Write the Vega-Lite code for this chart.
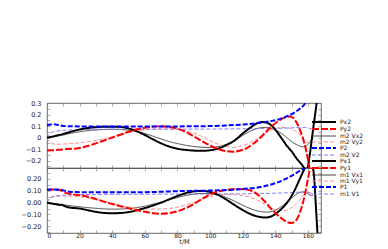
{
"$schema": "https://vega.github.io/schema/vega-lite/v6.json",
"padding": {"left": 20, "top": 99, "right": 5, "bottom": 2},
"spacing": 0,
"bounds": "flush",
"config": {
  "view": {"stroke": "#444444", "strokeWidth": 0.8},
  "axis": {"labelFont": "DejaVu Sans", "labelFontSize": 6.5, "labelColor": "#222222", "tickColor": "#777777", "tickWidth": 0.6, "tickSize": -3, "domain": false, "grid": false, "titleFont": "DejaVu Sans", "titleFontSize": 6.5, "titleFontWeight": "normal", "titleColor": "#222222"},
  "legend": {"labelFont": "DejaVu Sans", "labelFontSize": 6, "labelColor": "#222222"},
  "line": {"interpolate": "monotone"}
},
"datasets": {
"top": [
{"s":"Px2","t":0,"v":0},{"s":"Px2","t":3,"v":0.008},{"s":"Px2","t":6,"v":0.018},{"s":"Px2","t":9,"v":0.028},{"s":"Px2","t":12,"v":0.04},{"s":"Px2","t":15,"v":0.052},{"s":"Px2","t":20,"v":0.07},{"s":"Px2","t":25,"v":0.083},{"s":"Px2","t":30,"v":0.09},{"s":"Px2","t":35,"v":0.094},{"s":"Px2","t":40,"v":0.095},{"s":"Px2","t":45,"v":0.092},{"s":"Px2","t":50,"v":0.08},{"s":"Px2","t":55,"v":0.055},{"s":"Px2","t":60,"v":0.022},{"s":"Px2","t":65,"v":-0.015},{"s":"Px2","t":70,"v":-0.05},{"s":"Px2","t":75,"v":-0.078},{"s":"Px2","t":80,"v":-0.097},{"s":"Px2","t":85,"v":-0.107},{"s":"Px2","t":90,"v":-0.113},{"s":"Px2","t":95,"v":-0.115},{"s":"Px2","t":100,"v":-0.11},{"s":"Px2","t":105,"v":-0.095},{"s":"Px2","t":110,"v":-0.065},{"s":"Px2","t":115,"v":-0.025},{"s":"Px2","t":120,"v":0.035},{"s":"Px2","t":125,"v":0.09},{"s":"Px2","t":129,"v":0.125},{"s":"Px2","t":132,"v":0.135},{"s":"Px2","t":135,"v":0.128},{"s":"Px2","t":138,"v":0.1},{"s":"Px2","t":141,"v":0.05},{"s":"Px2","t":144,"v":-0.01},{"s":"Px2","t":147,"v":-0.07},{"s":"Px2","t":150,"v":-0.12},{"s":"Px2","t":153,"v":-0.18},{"s":"Px2","t":156,"v":-0.23},{"s":"Px2","t":158,"v":-0.265},{"s":"Px2","t":159.5,"v":-0.27},{"s":"Px2","t":161,"v":-0.16},{"s":"Px2","t":162.5,"v":0.0},{"s":"Px2","t":164,"v":0.16},{"s":"Px2","t":165.5,"v":0.32},{"s":"Px2","t":167,"v":0.5},
{"s":"Py2","t":0,"v":-0.112},{"s":"Py2","t":4,"v":-0.11},{"s":"Py2","t":8,"v":-0.105},{"s":"Py2","t":12,"v":-0.1},{"s":"Py2","t":16,"v":-0.097},{"s":"Py2","t":20,"v":-0.09},{"s":"Py2","t":25,"v":-0.073},{"s":"Py2","t":30,"v":-0.05},{"s":"Py2","t":35,"v":-0.025},{"s":"Py2","t":40,"v":0.0},{"s":"Py2","t":45,"v":0.025},{"s":"Py2","t":50,"v":0.05},{"s":"Py2","t":55,"v":0.07},{"s":"Py2","t":60,"v":0.085},{"s":"Py2","t":65,"v":0.095},{"s":"Py2","t":70,"v":0.098},{"s":"Py2","t":75,"v":0.093},{"s":"Py2","t":80,"v":0.078},{"s":"Py2","t":85,"v":0.05},{"s":"Py2","t":90,"v":0.01},{"s":"Py2","t":95,"v":-0.03},{"s":"Py2","t":100,"v":-0.068},{"s":"Py2","t":105,"v":-0.1},{"s":"Py2","t":110,"v":-0.118},{"s":"Py2","t":114,"v":-0.123},{"s":"Py2","t":118,"v":-0.115},{"s":"Py2","t":122,"v":-0.095},{"s":"Py2","t":126,"v":-0.058},{"s":"Py2","t":130,"v":-0.012},{"s":"Py2","t":134,"v":0.045},{"s":"Py2","t":138,"v":0.1},{"s":"Py2","t":142,"v":0.145},{"s":"Py2","t":146,"v":0.175},{"s":"Py2","t":149,"v":0.182},{"s":"Py2","t":151,"v":0.17},{"s":"Py2","t":153,"v":0.13},{"s":"Py2","t":155,"v":0.07},{"s":"Py2","t":157,"v":-0.01},{"s":"Py2","t":159,"v":-0.12},{"s":"Py2","t":161,"v":-0.27},{"s":"Py2","t":163,"v":-0.45},
{"s":"m2 Vx2","t":0,"v":0},{"s":"m2 Vx2","t":3,"v":0.005},{"s":"m2 Vx2","t":6,"v":0.012},{"s":"m2 Vx2","t":10,"v":0.022},{"s":"m2 Vx2","t":15,"v":0.038},{"s":"m2 Vx2","t":20,"v":0.05},{"s":"m2 Vx2","t":25,"v":0.06},{"s":"m2 Vx2","t":30,"v":0.066},{"s":"m2 Vx2","t":35,"v":0.07},{"s":"m2 Vx2","t":40,"v":0.072},{"s":"m2 Vx2","t":45,"v":0.07},{"s":"m2 Vx2","t":50,"v":0.064},{"s":"m2 Vx2","t":55,"v":0.052},{"s":"m2 Vx2","t":60,"v":0.035},{"s":"m2 Vx2","t":65,"v":0.012},{"s":"m2 Vx2","t":70,"v":-0.012},{"s":"m2 Vx2","t":75,"v":-0.035},{"s":"m2 Vx2","t":80,"v":-0.052},{"s":"m2 Vx2","t":85,"v":-0.067},{"s":"m2 Vx2","t":90,"v":-0.077},{"s":"m2 Vx2","t":95,"v":-0.084},{"s":"m2 Vx2","t":100,"v":-0.086},{"s":"m2 Vx2","t":105,"v":-0.079},{"s":"m2 Vx2","t":110,"v":-0.058},{"s":"m2 Vx2","t":115,"v":-0.025},{"s":"m2 Vx2","t":120,"v":0.018},{"s":"m2 Vx2","t":125,"v":0.058},{"s":"m2 Vx2","t":130,"v":0.083},{"s":"m2 Vx2","t":134,"v":0.088},{"s":"m2 Vx2","t":138,"v":0.078},{"s":"m2 Vx2","t":142,"v":0.052},{"s":"m2 Vx2","t":146,"v":0.012},{"s":"m2 Vx2","t":150,"v":-0.035},{"s":"m2 Vx2","t":154,"v":-0.068},{"s":"m2 Vx2","t":157,"v":-0.08},{"s":"m2 Vx2","t":159,"v":-0.072},{"s":"m2 Vx2","t":161,"v":-0.04},{"s":"m2 Vx2","t":163,"v":-0.005},
{"s":"m2 Vy2","t":0,"v":-0.01},{"s":"m2 Vy2","t":1.5,"v":-0.035},{"s":"m2 Vy2","t":3,"v":-0.05},{"s":"m2 Vy2","t":6,"v":-0.058},{"s":"m2 Vy2","t":10,"v":-0.056},{"s":"m2 Vy2","t":15,"v":-0.052},{"s":"m2 Vy2","t":20,"v":-0.045},{"s":"m2 Vy2","t":25,"v":-0.036},{"s":"m2 Vy2","t":30,"v":-0.025},{"s":"m2 Vy2","t":35,"v":-0.01},{"s":"m2 Vy2","t":40,"v":0.008},{"s":"m2 Vy2","t":45,"v":0.027},{"s":"m2 Vy2","t":50,"v":0.044},{"s":"m2 Vy2","t":55,"v":0.058},{"s":"m2 Vy2","t":60,"v":0.067},{"s":"m2 Vy2","t":65,"v":0.073},{"s":"m2 Vy2","t":70,"v":0.075},{"s":"m2 Vy2","t":75,"v":0.075},{"s":"m2 Vy2","t":80,"v":0.071},{"s":"m2 Vy2","t":85,"v":0.06},{"s":"m2 Vy2","t":90,"v":0.04},{"s":"m2 Vy2","t":95,"v":0.01},{"s":"m2 Vy2","t":100,"v":-0.025},{"s":"m2 Vy2","t":105,"v":-0.058},{"s":"m2 Vy2","t":110,"v":-0.079},{"s":"m2 Vy2","t":114,"v":-0.085},{"s":"m2 Vy2","t":118,"v":-0.078},{"s":"m2 Vy2","t":122,"v":-0.06},{"s":"m2 Vy2","t":126,"v":-0.032},{"s":"m2 Vy2","t":130,"v":0.0},{"s":"m2 Vy2","t":134,"v":0.038},{"s":"m2 Vy2","t":138,"v":0.068},{"s":"m2 Vy2","t":142,"v":0.085},{"s":"m2 Vy2","t":146,"v":0.088},{"s":"m2 Vy2","t":150,"v":0.075},{"s":"m2 Vy2","t":153,"v":0.05},{"s":"m2 Vy2","t":156,"v":0.01},{"s":"m2 Vy2","t":158,"v":-0.025},{"s":"m2 Vy2","t":160,"v":-0.05},{"s":"m2 Vy2","t":162,"v":-0.045},
{"s":"P2","t":0,"v":0.105},{"s":"P2","t":2,"v":0.113},{"s":"P2","t":4,"v":0.115},{"s":"P2","t":6,"v":0.112},{"s":"P2","t":9,"v":0.103},{"s":"P2","t":12,"v":0.099},{"s":"P2","t":20,"v":0.097},{"s":"P2","t":40,"v":0.096},{"s":"P2","t":60,"v":0.096},{"s":"P2","t":80,"v":0.097},{"s":"P2","t":90,"v":0.098},{"s":"P2","t":100,"v":0.1},{"s":"P2","t":110,"v":0.105},{"s":"P2","t":120,"v":0.113},{"s":"P2","t":130,"v":0.127},{"s":"P2","t":138,"v":0.145},{"s":"P2","t":143,"v":0.162},{"s":"P2","t":148,"v":0.19},{"s":"P2","t":152,"v":0.22},{"s":"P2","t":155,"v":0.25},{"s":"P2","t":158,"v":0.29},{"s":"P2","t":160,"v":0.33},
{"s":"m2 V2","t":0,"v":0.0},{"s":"m2 V2","t":1.5,"v":0.03},{"s":"m2 V2","t":3,"v":0.045},{"s":"m2 V2","t":6,"v":0.056},{"s":"m2 V2","t":10,"v":0.063},{"s":"m2 V2","t":15,"v":0.067},{"s":"m2 V2","t":20,"v":0.069},{"s":"m2 V2","t":30,"v":0.071},{"s":"m2 V2","t":40,"v":0.072},{"s":"m2 V2","t":60,"v":0.073},{"s":"m2 V2","t":80,"v":0.073},{"s":"m2 V2","t":100,"v":0.074},{"s":"m2 V2","t":120,"v":0.076},{"s":"m2 V2","t":130,"v":0.078},{"s":"m2 V2","t":140,"v":0.08},{"s":"m2 V2","t":150,"v":0.084},{"s":"m2 V2","t":155,"v":0.088},{"s":"m2 V2","t":158,"v":0.088},{"s":"m2 V2","t":161,"v":0.08},{"s":"m2 V2","t":163,"v":0.07}
],
"bottom": [
{"s":"Px1","t":0,"v":0},{"s":"Px1","t":3,"v":-0.008},{"s":"Px1","t":6,"v":-0.015},{"s":"Px1","t":8,"v":-0.02},{"s":"Px1","t":9,"v":-0.018},{"s":"Px1","t":10,"v":-0.025},{"s":"Px1","t":12,"v":-0.035},{"s":"Px1","t":14,"v":-0.042},{"s":"Px1","t":17,"v":-0.046},{"s":"Px1","t":20,"v":-0.05},{"s":"Px1","t":25,"v":-0.064},{"s":"Px1","t":30,"v":-0.078},{"s":"Px1","t":35,"v":-0.087},{"s":"Px1","t":40,"v":-0.09},{"s":"Px1","t":45,"v":-0.088},{"s":"Px1","t":50,"v":-0.08},{"s":"Px1","t":55,"v":-0.065},{"s":"Px1","t":60,"v":-0.046},{"s":"Px1","t":65,"v":-0.024},{"s":"Px1","t":70,"v":0.0},{"s":"Px1","t":75,"v":0.028},{"s":"Px1","t":80,"v":0.056},{"s":"Px1","t":85,"v":0.08},{"s":"Px1","t":90,"v":0.095},{"s":"Px1","t":95,"v":0.099},{"s":"Px1","t":100,"v":0.09},{"s":"Px1","t":105,"v":0.065},{"s":"Px1","t":110,"v":0.025},{"s":"Px1","t":115,"v":-0.02},{"s":"Px1","t":120,"v":-0.063},{"s":"Px1","t":125,"v":-0.098},{"s":"Px1","t":130,"v":-0.12},{"s":"Px1","t":134,"v":-0.126},{"s":"Px1","t":138,"v":-0.113},{"s":"Px1","t":142,"v":-0.075},{"s":"Px1","t":146,"v":-0.02},{"s":"Px1","t":149,"v":0.035},{"s":"Px1","t":152,"v":0.11},{"s":"Px1","t":155,"v":0.2},{"s":"Px1","t":158,"v":0.29},{"s":"Px1","t":160,"v":0.34},{"s":"Px1","t":162,"v":0.34},{"s":"Px1","t":163,"v":0.3},{"s":"Px1","t":163.8,"v":0.215},{"s":"Px1","t":164.8,"v":-0.015},{"s":"Px1","t":165.8,"v":-0.25},{"s":"Px1","t":166.5,"v":-0.4},
{"s":"Py1","t":0,"v":0.11},{"s":"Py1","t":4,"v":0.111},{"s":"Py1","t":7,"v":0.108},{"s":"Py1","t":9,"v":0.1},{"s":"Py1","t":11,"v":0.085},{"s":"Py1","t":13,"v":0.076},{"s":"Py1","t":16,"v":0.07},{"s":"Py1","t":20,"v":0.063},{"s":"Py1","t":25,"v":0.05},{"s":"Py1","t":30,"v":0.03},{"s":"Py1","t":35,"v":0.008},{"s":"Py1","t":40,"v":-0.012},{"s":"Py1","t":45,"v":-0.03},{"s":"Py1","t":50,"v":-0.048},{"s":"Py1","t":55,"v":-0.064},{"s":"Py1","t":60,"v":-0.078},{"s":"Py1","t":65,"v":-0.089},{"s":"Py1","t":70,"v":-0.094},{"s":"Py1","t":75,"v":-0.088},{"s":"Py1","t":80,"v":-0.073},{"s":"Py1","t":85,"v":-0.047},{"s":"Py1","t":90,"v":-0.012},{"s":"Py1","t":95,"v":0.032},{"s":"Py1","t":100,"v":0.07},{"s":"Py1","t":105,"v":0.095},{"s":"Py1","t":110,"v":0.108},{"s":"Py1","t":115,"v":0.115},{"s":"Py1","t":120,"v":0.114},{"s":"Py1","t":125,"v":0.102},{"s":"Py1","t":129,"v":0.07},{"s":"Py1","t":133,"v":0.018},{"s":"Py1","t":137,"v":-0.045},{"s":"Py1","t":141,"v":-0.1},{"s":"Py1","t":145,"v":-0.145},{"s":"Py1","t":148,"v":-0.168},{"s":"Py1","t":150,"v":-0.172},{"s":"Py1","t":152,"v":-0.16},{"s":"Py1","t":154,"v":-0.12},{"s":"Py1","t":156,"v":-0.045},{"s":"Py1","t":158,"v":0.06},{"s":"Py1","t":160,"v":0.2},{"s":"Py1","t":162,"v":0.34},
{"s":"m1 Vx1","t":0,"v":0},{"s":"m1 Vx1","t":3,"v":-0.005},{"s":"m1 Vx1","t":6,"v":-0.01},{"s":"m1 Vx1","t":10,"v":-0.018},{"s":"m1 Vx1","t":15,"v":-0.027},{"s":"m1 Vx1","t":20,"v":-0.035},{"s":"m1 Vx1","t":25,"v":-0.042},{"s":"m1 Vx1","t":30,"v":-0.048},{"s":"m1 Vx1","t":35,"v":-0.053},{"s":"m1 Vx1","t":40,"v":-0.055},{"s":"m1 Vx1","t":45,"v":-0.054},{"s":"m1 Vx1","t":50,"v":-0.05},{"s":"m1 Vx1","t":55,"v":-0.042},{"s":"m1 Vx1","t":60,"v":-0.03},{"s":"m1 Vx1","t":65,"v":-0.013},{"s":"m1 Vx1","t":70,"v":0.005},{"s":"m1 Vx1","t":75,"v":0.025},{"s":"m1 Vx1","t":80,"v":0.043},{"s":"m1 Vx1","t":85,"v":0.06},{"s":"m1 Vx1","t":90,"v":0.072},{"s":"m1 Vx1","t":95,"v":0.078},{"s":"m1 Vx1","t":100,"v":0.077},{"s":"m1 Vx1","t":105,"v":0.066},{"s":"m1 Vx1","t":110,"v":0.043},{"s":"m1 Vx1","t":115,"v":0.012},{"s":"m1 Vx1","t":120,"v":-0.022},{"s":"m1 Vx1","t":125,"v":-0.052},{"s":"m1 Vx1","t":130,"v":-0.073},{"s":"m1 Vx1","t":135,"v":-0.08},{"s":"m1 Vx1","t":139,"v":-0.07},{"s":"m1 Vx1","t":143,"v":-0.04},{"s":"m1 Vx1","t":147,"v":0.005},{"s":"m1 Vx1","t":151,"v":0.05},{"s":"m1 Vx1","t":154,"v":0.08},{"s":"m1 Vx1","t":157,"v":0.09},{"s":"m1 Vx1","t":159,"v":0.085},{"s":"m1 Vx1","t":161,"v":0.065},{"s":"m1 Vx1","t":163,"v":0.06},
{"s":"m1 Vy1","t":0,"v":0.0},{"s":"m1 Vy1","t":1.5,"v":0.03},{"s":"m1 Vy1","t":3,"v":0.045},{"s":"m1 Vy1","t":6,"v":0.053},{"s":"m1 Vy1","t":10,"v":0.056},{"s":"m1 Vy1","t":15,"v":0.055},{"s":"m1 Vy1","t":20,"v":0.05},{"s":"m1 Vy1","t":25,"v":0.04},{"s":"m1 Vy1","t":30,"v":0.026},{"s":"m1 Vy1","t":35,"v":0.009},{"s":"m1 Vy1","t":40,"v":-0.009},{"s":"m1 Vy1","t":45,"v":-0.025},{"s":"m1 Vy1","t":50,"v":-0.038},{"s":"m1 Vy1","t":55,"v":-0.047},{"s":"m1 Vy1","t":60,"v":-0.053},{"s":"m1 Vy1","t":65,"v":-0.055},{"s":"m1 Vy1","t":70,"v":-0.054},{"s":"m1 Vy1","t":75,"v":-0.049},{"s":"m1 Vy1","t":80,"v":-0.038},{"s":"m1 Vy1","t":85,"v":-0.02},{"s":"m1 Vy1","t":90,"v":0.002},{"s":"m1 Vy1","t":95,"v":0.028},{"s":"m1 Vy1","t":100,"v":0.05},{"s":"m1 Vy1","t":105,"v":0.065},{"s":"m1 Vy1","t":110,"v":0.07},{"s":"m1 Vy1","t":115,"v":0.068},{"s":"m1 Vy1","t":120,"v":0.06},{"s":"m1 Vy1","t":125,"v":0.043},{"s":"m1 Vy1","t":130,"v":0.015},{"s":"m1 Vy1","t":134,"v":-0.018},{"s":"m1 Vy1","t":138,"v":-0.05},{"s":"m1 Vy1","t":142,"v":-0.068},{"s":"m1 Vy1","t":146,"v":-0.066},{"s":"m1 Vy1","t":150,"v":-0.042},{"s":"m1 Vy1","t":153,"v":-0.01},{"s":"m1 Vy1","t":156,"v":0.04},{"s":"m1 Vy1","t":158,"v":0.075},{"s":"m1 Vy1","t":160,"v":0.09},{"s":"m1 Vy1","t":162,"v":0.075},
{"s":"P1","t":0,"v":0.11},{"s":"P1","t":4,"v":0.111},{"s":"P1","t":8,"v":0.109},{"s":"P1","t":11,"v":0.1},{"s":"P1","t":14,"v":0.092},{"s":"P1","t":18,"v":0.089},{"s":"P1","t":30,"v":0.087},{"s":"P1","t":50,"v":0.087},{"s":"P1","t":60,"v":0.088},{"s":"P1","t":70,"v":0.092},{"s":"P1","t":80,"v":0.097},{"s":"P1","t":90,"v":0.1},{"s":"P1","t":100,"v":0.102},{"s":"P1","t":110,"v":0.106},{"s":"P1","t":120,"v":0.115},{"s":"P1","t":130,"v":0.13},{"s":"P1","t":138,"v":0.155},{"s":"P1","t":143,"v":0.18},{"s":"P1","t":147,"v":0.205},{"s":"P1","t":151,"v":0.235},{"s":"P1","t":155,"v":0.27},{"s":"P1","t":158,"v":0.3},{"s":"P1","t":160,"v":0.33},
{"s":"m1 V1","t":0,"v":0.0},{"s":"m1 V1","t":1.5,"v":0.035},{"s":"m1 V1","t":3,"v":0.05},{"s":"m1 V1","t":6,"v":0.058},{"s":"m1 V1","t":10,"v":0.063},{"s":"m1 V1","t":15,"v":0.066},{"s":"m1 V1","t":20,"v":0.068},{"s":"m1 V1","t":40,"v":0.07},{"s":"m1 V1","t":60,"v":0.071},{"s":"m1 V1","t":80,"v":0.072},{"s":"m1 V1","t":100,"v":0.073},{"s":"m1 V1","t":120,"v":0.075},{"s":"m1 V1","t":130,"v":0.077},{"s":"m1 V1","t":140,"v":0.08},{"s":"m1 V1","t":150,"v":0.085},{"s":"m1 V1","t":155,"v":0.089},{"s":"m1 V1","t":158,"v":0.09},{"s":"m1 V1","t":161,"v":0.083},{"s":"m1 V1","t":163,"v":0.072}
]
},
"vconcat": [
{
  "width": 274, "height": 65,
  "data": {"name": "top"},
  "resolve": {"axis": {"x": "independent", "y": "independent"}},
  "layer": [
    {
      "transform": [{"filter": {"field": "s", "oneOf": ["m2 Vx2", "m2 Vy2", "m2 V2"]}}],
      "mark": {"type": "line", "clip": true},
      "encoding": {
        "x": {"field": "t", "type": "quantitative", "scale": {"domain": [0, 168], "nice": false}, "axis": {"orient": "top", "labels": false, "title": null, "values": [0,10,20,30,40,50,60,70,80,90,100,110,120,130,140,150,160]}},
        "y": {"field": "v", "type": "quantitative", "scale": {"domain": [-0.264, 0.3], "nice": false, "zero": false}, "axis": {"orient": "right", "labels": false, "title": null, "values": [-0.25,-0.2,-0.15,-0.1,-0.05,0,0.05,0.1,0.15,0.2,0.25,0.3]}},
        "color": {"field": "s", "type": "nominal", "scale": {"domain": ["Px2","Py2","m2 Vx2","m2 Vy2","P2","m2 V2"], "range": ["#000000","#ff0000","#333333","#ff8080","#0000ff","#7070ff"]}, "legend": {"title": null, "orient": "none", "legendX": 274, "legendY": 16, "symbolType": "M-6,0H6", "symbolSize": 16, "labelOffset": 13, "rowPadding": -1.4, "padding": 0}},
        "strokeDash": {"field": "s", "type": "nominal", "scale": {"domain": ["Px2","Py2","m2 Vx2","m2 Vy2","P2","m2 V2"], "range": [[1,0],[7,2],[1,0],[4,2],[5,2],[4,2]]}, "legend": {"title": null, "orient": "none", "legendX": 274, "legendY": 16, "symbolType": "M-6,0H6", "symbolSize": 16, "labelOffset": 13, "rowPadding": -1.4, "padding": 0}},
        "strokeWidth": {"field": "s", "type": "nominal", "scale": {"type": "ordinal", "domain": ["Px2","Py2","m2 Vx2","m2 Vy2","P2","m2 V2"], "range": [2,2,0.9,0.9,2,0.9]}, "legend": {"title": null, "orient": "none", "legendX": 274, "legendY": 16, "symbolType": "M-6,0H6", "symbolSize": 16, "labelOffset": 13, "rowPadding": -1.4, "padding": 0}}
      }
    },
    {
      "transform": [{"filter": {"field": "s", "oneOf": ["Px2", "Py2", "P2"]}}],
      "mark": {"type": "line", "clip": true},
      "encoding": {
        "x": {"field": "t", "type": "quantitative", "scale": {"domain": [0, 168], "nice": false}, "axis": {"orient": "bottom", "labels": false, "title": null, "values": [0,10,20,30,40,50,60,70,80,90,100,110,120,130,140,150,160]}},
        "y": {"field": "v", "type": "quantitative", "scale": {"domain": [-0.264, 0.3], "nice": false, "zero": false}, "axis": {"orient": "left", "title": null, "format": ".1~f", "labelPadding": 9, "values": [-0.25,-0.2,-0.15,-0.1,-0.05,0,0.05,0.1,0.15,0.2,0.25,0.3], "labelExpr": "round(datum.value*20) % 2 == 0 ? datum.label : ''"}},
        "color": {"field": "s", "type": "nominal", "scale": {"domain": ["Px2","Py2","m2 Vx2","m2 Vy2","P2","m2 V2"], "range": ["#000000","#ff0000","#333333","#ff8080","#0000ff","#7070ff"]}, "legend": {"title": null, "orient": "none", "legendX": 274, "legendY": 16, "symbolType": "M-6,0H6", "symbolSize": 16, "labelOffset": 13, "rowPadding": -1.4, "padding": 0}},
        "strokeDash": {"field": "s", "type": "nominal", "scale": {"domain": ["Px2","Py2","m2 Vx2","m2 Vy2","P2","m2 V2"], "range": [[1,0],[7,2],[1,0],[4,2],[5,2],[4,2]]}, "legend": {"title": null, "orient": "none", "legendX": 274, "legendY": 16, "symbolType": "M-6,0H6", "symbolSize": 16, "labelOffset": 13, "rowPadding": -1.4, "padding": 0}},
        "strokeWidth": {"field": "s", "type": "nominal", "scale": {"type": "ordinal", "domain": ["Px2","Py2","m2 Vx2","m2 Vy2","P2","m2 V2"], "range": [2,2,0.9,0.9,2,0.9]}, "legend": {"title": null, "orient": "none", "legendX": 274, "legendY": 16, "symbolType": "M-6,0H6", "symbolSize": 16, "labelOffset": 13, "rowPadding": -1.4, "padding": 0}}
      }
    }
  ]
},
{
  "width": 274, "height": 65,
  "data": {"name": "bottom"},
  "resolve": {"axis": {"x": "independent", "y": "independent"}},
  "layer": [
    {
      "transform": [{"filter": {"field": "s", "oneOf": ["m1 Vx1", "m1 Vy1", "m1 V1"]}}],
      "mark": {"type": "line", "clip": true},
      "encoding": {
        "x": {"field": "t", "type": "quantitative", "scale": {"domain": [0, 168], "nice": false}, "axis": {"orient": "top", "labels": false, "title": null, "values": [0,10,20,30,40,50,60,70,80,90,100,110,120,130,140,150,160]}},
        "y": {"field": "v", "type": "quantitative", "scale": {"domain": [-0.257, 0.293], "nice": false, "zero": false}, "axis": {"orient": "right", "labels": false, "title": null, "values": [-0.25,-0.2,-0.15,-0.1,-0.05,0,0.05,0.1,0.15,0.2,0.25]}},
        "color": {"field": "s", "type": "nominal", "scale": {"domain": ["Px1","Py1","m1 Vx1","m1 Vy1","P1","m1 V1"], "range": ["#000000","#ff0000","#333333","#ff8080","#0000ff","#7070ff"]}, "legend": {"title": null, "orient": "none", "legendX": 274, "legendY": 6, "symbolType": "M-6,0H6", "symbolSize": 16, "labelOffset": 13, "rowPadding": -1.4, "padding": 0}},
        "strokeDash": {"field": "s", "type": "nominal", "scale": {"domain": ["Px1","Py1","m1 Vx1","m1 Vy1","P1","m1 V1"], "range": [[1,0],[7,2],[1,0],[4,2],[5,2],[4,2]]}, "legend": {"title": null, "orient": "none", "legendX": 274, "legendY": 6, "symbolType": "M-6,0H6", "symbolSize": 16, "labelOffset": 13, "rowPadding": -1.4, "padding": 0}},
        "strokeWidth": {"field": "s", "type": "nominal", "scale": {"type": "ordinal", "domain": ["Px1","Py1","m1 Vx1","m1 Vy1","P1","m1 V1"], "range": [2,2,0.9,0.9,2,0.9]}, "legend": {"title": null, "orient": "none", "legendX": 274, "legendY": 6, "symbolType": "M-6,0H6", "symbolSize": 16, "labelOffset": 13, "rowPadding": -1.4, "padding": 0}}
      }
    },
    {
      "transform": [{"filter": {"field": "s", "oneOf": ["Px1", "Py1", "P1"]}}],
      "mark": {"type": "line", "clip": true},
      "encoding": {
        "x": {"field": "t", "type": "quantitative", "scale": {"domain": [0, 168], "nice": false}, "axis": {"orient": "bottom", "title": "t/M", "format": "d", "labelFontSize": 6, "labelPadding": 2.5, "titlePadding": 0, "values": [0,10,20,30,40,50,60,70,80,90,100,110,120,130,140,150,160], "labelExpr": "datum.value % 20 == 0 ? datum.label : ''"}},
        "y": {"field": "v", "type": "quantitative", "scale": {"domain": [-0.257, 0.293], "nice": false, "zero": false}, "axis": {"orient": "left", "title": null, "format": ".2f", "labelPadding": 9, "values": [-0.25,-0.2,-0.15,-0.1,-0.05,0,0.05,0.1,0.15,0.2,0.25], "labelExpr": "round(datum.value*20) % 2 == 0 ? datum.label : ''"}},
        "color": {"field": "s", "type": "nominal", "scale": {"domain": ["Px1","Py1","m1 Vx1","m1 Vy1","P1","m1 V1"], "range": ["#000000","#ff0000","#333333","#ff8080","#0000ff","#7070ff"]}, "legend": {"title": null, "orient": "none", "legendX": 274, "legendY": 6, "symbolType": "M-6,0H6", "symbolSize": 16, "labelOffset": 13, "rowPadding": -1.4, "padding": 0}},
        "strokeDash": {"field": "s", "type": "nominal", "scale": {"domain": ["Px1","Py1","m1 Vx1","m1 Vy1","P1","m1 V1"], "range": [[1,0],[7,2],[1,0],[4,2],[5,2],[4,2]]}, "legend": {"title": null, "orient": "none", "legendX": 274, "legendY": 6, "symbolType": "M-6,0H6", "symbolSize": 16, "labelOffset": 13, "rowPadding": -1.4, "padding": 0}},
        "strokeWidth": {"field": "s", "type": "nominal", "scale": {"type": "ordinal", "domain": ["Px1","Py1","m1 Vx1","m1 Vy1","P1","m1 V1"], "range": [2,2,0.9,0.9,2,0.9]}, "legend": {"title": null, "orient": "none", "legendX": 274, "legendY": 6, "symbolType": "M-6,0H6", "symbolSize": 16, "labelOffset": 13, "rowPadding": -1.4, "padding": 0}}
      }
    }
  ]
}
]
}
